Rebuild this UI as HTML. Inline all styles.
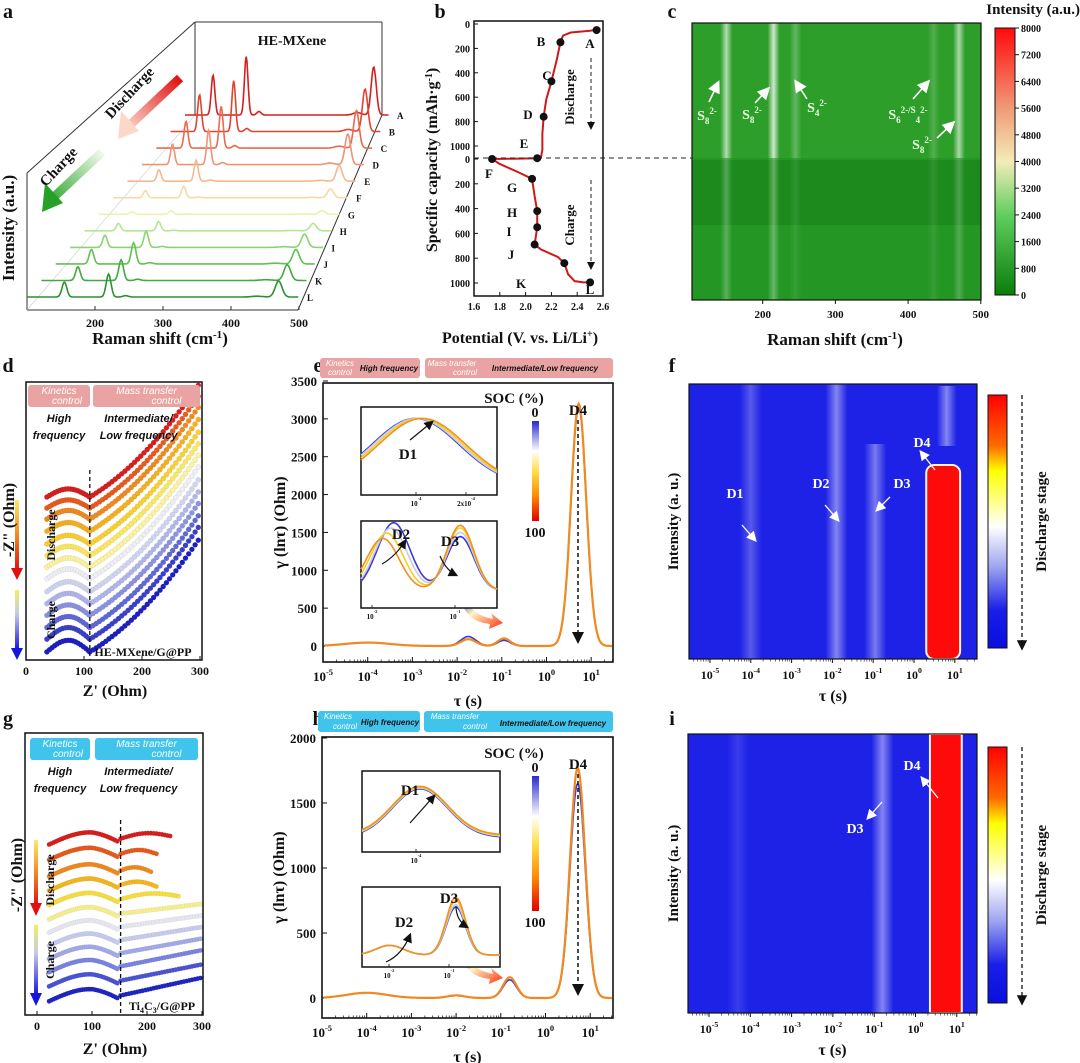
<!DOCTYPE html>
<html><head><meta charset="utf-8"><title>HE-MXene Raman / DRT figure</title>
<style>
html,body{margin:0;padding:0;background:#fff;}
svg{display:block;font-family:"Liberation Serif",serif;}
</style></head>
<body>
<svg id="fig" width="1080" height="1063" viewBox="0 0 1080 1063" xmlns="http://www.w3.org/2000/svg">
<defs>
 <linearGradient id="gC" x1="0" y1="1" x2="0" y2="0">
  <stop offset="0" stop-color="#0b7d0b"/><stop offset="0.3" stop-color="#5fcf5f"/><stop offset="0.5" stop-color="#f3ecb8"/><stop offset="0.7" stop-color="#f09a78"/><stop offset="1" stop-color="#ff0a0a"/>
 </linearGradient>
 <linearGradient id="gJ" x1="0" y1="0" x2="0" y2="1">
  <stop offset="0" stop-color="#ff0000"/><stop offset="0.2" stop-color="#ff6a00"/><stop offset="0.3" stop-color="#ffff00"/><stop offset="0.52" stop-color="#ffffff"/><stop offset="0.68" stop-color="#9ea4f0"/><stop offset="0.85" stop-color="#1a1ee8"/><stop offset="1" stop-color="#0a0ee0"/>
 </linearGradient>
 <linearGradient id="gSOC" x1="0" y1="0" x2="0" y2="1">
  <stop offset="0" stop-color="#2a2ad0"/><stop offset="0.3" stop-color="#ffffff"/><stop offset="0.5" stop-color="#ffe04a"/><stop offset="0.75" stop-color="#ff8a00"/><stop offset="1" stop-color="#e00000"/>
 </linearGradient>
 <linearGradient id="gDis" x1="0" y1="0" x2="0" y2="1"><stop offset="0" stop-color="#ffe866"/><stop offset="0.5" stop-color="#f08a20"/><stop offset="1" stop-color="#e01010"/></linearGradient>
 <linearGradient id="gChg" x1="0" y1="0" x2="0" y2="1"><stop offset="0" stop-color="#f0f060"/><stop offset="0.4" stop-color="#c8c8e8"/><stop offset="1" stop-color="#1515e0"/></linearGradient>
 <linearGradient id="gArrR" gradientUnits="userSpaceOnUse" x1="180" y1="78" x2="123" y2="132"><stop offset="0" stop-color="#e01010"/><stop offset="1" stop-color="#fde4d8"/></linearGradient>
 <linearGradient id="gArrG" gradientUnits="userSpaceOnUse" x1="102" y1="152" x2="47" y2="207"><stop offset="0" stop-color="#f0faea"/><stop offset="1" stop-color="#22a022"/></linearGradient>
 <linearGradient id="gFlow" x1="0" y1="0" x2="1" y2="1"><stop offset="0" stop-color="#3030d0"/><stop offset="0.4" stop-color="#fff6c0"/><stop offset="1" stop-color="#ff3010"/></linearGradient>
 <linearGradient id="band" x1="0" y1="0" x2="1" y2="0"><stop offset="0" stop-color="#fff" stop-opacity="0"/><stop offset="0.5" stop-color="#fff" stop-opacity="1"/><stop offset="1" stop-color="#fff" stop-opacity="0"/></linearGradient>
 <clipPath id="clipD"><rect x="26" y="382" width="176" height="278"/></clipPath>
 <clipPath id="clipG"><rect x="25" y="733" width="178" height="282"/></clipPath>
 <marker id="ah" markerWidth="8" markerHeight="8" refX="6" refY="4" orient="auto"><path d="M0,0 L8,4 L0,8 Z" fill="#111"/></marker>
 <marker id="ahw" markerWidth="8" markerHeight="8" refX="6" refY="4" orient="auto"><path d="M0,0 L8,4 L0,8 Z" fill="#fff"/></marker>
</defs>
<g id="pa"></g>
<g id="pb"></g>
<g id="pc"></g>
<g id="pd"></g>
<g id="pe"></g>
<g id="pf"></g>
<g id="pg"></g>
<g id="ph"></g>
<g id="pi"></g>
</svg>
<script>
// ---------- DATA ----------
const ramanLabels=['A','B','C','D','E','F','G','H','I','J','K','L'];
const ramanPeakPos=[155,220,470];
const ramanH155=[50,45,32,24,13,8,3,8,13,15,14,15];
const ramanH220=[73,62,50,40,24,13,4,10,17,22,21,23];
const ramanH470=[60,52,45,36,18,10,4,8,14,15,16,16];
const ramanColors=['#d42020','#e0442e','#e86a50','#f09274','#f5b88e','#f7d9a6','#eaf2b0','#b6e692','#8ad470','#62c052','#42a840','#2a9230'];
const ramanTicks=[200,300,400,500];

const bDisV=[2.58,2.56,2.50,2.35,2.29,2.27,2.24,2.20,2.16,2.14,2.13,2.13,2.12,2.10];
const bDisC=[38,45,55,70,95,150,300,470,620,760,900,1030,1090,1100];
const bChgV=[1.74,1.80,1.95,2.05,2.07,2.09,2.09,2.08,2.07,2.12,2.25,2.30,2.33,2.38,2.45,2.52];
const bChgC=[0,40,110,160,300,420,550,620,690,730,790,840,930,985,995,995];
const bDotLabels=['A','B','C','D','E','F','G','H','I','J','K','L'];
const bDotV=[2.55,2.27,2.20,2.14,2.09,1.74,2.05,2.09,2.09,2.07,2.30,2.50];
const bDotC=[50,150,470,760,1100,0,160,420,550,690,840,995];
const bDotPart=['d','d','d','d','d','c','c','c','c','c','c','c'];
const bXTicks=[1.6,1.8,2.0,2.2,2.4,2.6];
const bYTicks=[0,200,400,600,800,1000];

const cBandPos=[150,215,245,435,470];
const cBandTop=[0.75,0.9,0.3,0.2,0.7];
const cBandBot=[0.35,0.45,0.12,0.12,0.3];
const cTicks=[200,300,400,500];
const cBarTicks=[0,800,1600,2400,3200,4000,4800,5600,6400,7200,8000];

const dBase=[281,262,243,222,200,180,160,140,118,97,77,56,36,14];
const dArc=[14,14,15,15,15,16,16,17,17,18,18,19,20,20];
const dColors=['#d81e1e','#e85a1e','#f08a1e','#f5b01e','#f8d030','#fae860','#fbf3a0','#eeeef4','#d0d4ee','#b0b6ea','#8c92e2','#6068d8','#3a40cc','#1c20c0'];
const dTicks=[0,100,200,300];

const gBase=[320,292,262,236,210,184,160,136,112,88,62,35];
const gEnd=[245,220,210,220,260,300,300,300,300,300,300,300];
const gRise=[0.05,0.0,-0.05,-0.05,0.05,0.12,0.14,0.16,0.18,0.2,0.2,0.22];
const gColors=['#d81e1e','#e85a1e','#f08a1e','#f5b81e','#f6e040','#f8f090','#e8e8f2','#c8ccee','#a4aaea','#7c84e0','#4c54d4','#2026c4'];

const logTicks=[-5,-4,-3,-2,-1,0,1];
const ePeakC=[-4,-1.75,-0.95,0.72];
const ePeakW=[0.5,0.17,0.14,0.17];
const eOrangeH=[45,90,100,3200];
const eBlueH=[45,125,75,3150];
const eYTicks=[0,500,1000,1500,2000,2500,3000,3500];
const hPeakC=[-4,-2,-0.8,0.72];
const hPeakW=[0.45,0.2,0.15,0.17];
const hOrangeH=[40,20,160,1770];
const hBlueH=[40,18,140,1650];
const hYTicks=[0,500,1000,1500,2000];
const socColors=['#3a3ad8','#c8c8f0','#f5d020','#f09020'];
const insE1C=[0.40,0.41,0.43,0.45];
const insE2D2C=[0.24,0.22,0.19,0.16];
const insE2D2H=[0.78,0.72,0.66,0.6];
const insE2D3H=[0.62,0.67,0.72,0.75];
const insH2D3H=[0.6,0.63,0.68,0.72];

const fBandC=[-4,-1.9,-0.95];
const fBandA=[0.25,0.45,0.4];
const iBandC=[-4.3,-0.8];
const iBandA=[0.12,0.45];

// ---------- HELPERS ----------
const NS='http://www.w3.org/2000/svg';
function mk(tag,attrs,parent){const e=document.createElementNS(NS,tag);for(const k in attrs)e.setAttribute(k,attrs[k]);parent.appendChild(e);return e;}
function txt(parent,x,y,s,size,o){o=o||{};const t=mk('text',{x:x,y:y,'font-size':size,'text-anchor':o.a||'middle',fill:o.f||'#111','font-weight':o.w||'bold'},parent);if(o.r!==undefined)t.setAttribute('transform','rotate('+o.r+' '+x+' '+y+')');if(o.it)t.setAttribute('font-style','italic');if(o.sans)t.setAttribute('font-family','Liberation Sans, sans-serif');t.textContent=s;

return t;}
function sup(parent,x,y,base,ex,size,n){const t=mk('text',{x:x,y:y,'font-size':size,'text-anchor':'middle','font-weight':'bold',fill:'#111'},parent);

t.appendChild(document.createTextNode(base));const s=mk('tspan',{dy:-6,'font-size':size*0.65},t);s.textContent=ex;return t;}
function line(parent,x1,y1,x2,y2,st,sw,n,extra){const l=mk('line',{x1:x1,y1:y1,x2:x2,y2:y2,stroke:st,'stroke-width':sw},parent);if(extra)for(const k in extra)l.setAttribute(k,extra[k]);

return l;}
function path(parent,d,st,sw,fill,n){const p=mk('path',{d:d,stroke:st,'stroke-width':sw,fill:fill||'none'},parent);

return p;}
function rect(parent,x,y,w,h,fill,n,extra){const r=mk('rect',{x:x,y:y,width:w,height:h,fill:fill},parent);if(extra)for(const k in extra)r.setAttribute(k,extra[k]);

return r;}
function gauss(x,c,w){return Math.exp(-0.5*((x-c)/w)*((x-c)/w));}
function lerp(a,b,t){return a+(b-a)*t;}

// ---------- PANEL A ----------
(function(){
const g=document.getElementById('pa');
txt(g,8,18,'a',20,{n:'panel-a-letter'});
const fr='#333';
line(g,27,173,195,22,fr,1,'frame-edge');line(g,27,173,27,310,fr,1,'frame-edge');
line(g,195,22,382,22,fr,1,'frame-edge');line(g,195,22,195,115,fr,1,'frame-edge');
line(g,382,22,382,115,fr,1,'frame-edge');line(g,27,310,298,310,fr,1,'frame-edge');
line(g,298,310,382,115,fr,1,'frame-edge');line(g,27,310,195,115,'#ccc',0.6,'frame-edge');
function X(r,t){return lerp(185,27,t)+(r-100)*lerp(0.51,0.68,t);}
for(let i=0;i<ramanLabels.length;i++){
 const t=i/11,by=lerp(115,297,t),sc=lerp(0.8,1,t);
 const hs=[ramanH155[i],ramanH220[i],ramanH470[i]];
 let d='';
 for(let r=100;r<=500;r+=1.5){let v=0;for(let k=0;k<3;k++)v+=hs[k]*gauss(r,ramanPeakPos[k],k==2?5:3.5);
  v+=0.06*hs[1]*gauss(r,245,4)+0.05*hs[2]*gauss(r,438,8);
  d+=(d?'L':'M')+X(r,t).toFixed(1)+','+(by-v*sc).toFixed(1);}
 path(g,d,ramanColors[i],1.6,'none','raman-trace-'+ramanLabels[i]);
 txt(g,X(500,t)+8,by+4,ramanLabels[i],9,{n:'trace-label',a:'start'});
}
for(const r of ramanTicks){const x=X(r,1);line(g,x,310,x,306,fr,1,'x-tick');txt(g,x,327,String(r),12,{n:'x-tick-label'});}
txt(g,292,45,'HE-MXene',14,{n:'series-title'});
line(g,180,78,131,124,'url(#gArrR)',9,'discharge-arrow-shaft');
path(g,'M121,111 L139,131 L118,139 Z','none',0,'#fbd8c8','discharge-arrow-head');
line(g,102,152,55,196,'url(#gArrG)',9,'charge-arrow-shaft');
path(g,'M45,183 L63,203 L42,212 Z','none',0,'#26a026','charge-arrow-head');
txt(g,133,96,'Discharge',15,{r:-47,n:'discharge-label'});
txt(g,62,170,'Charge',15,{r:-47,n:'charge-label'});
txt(g,14,228,'Intensity (a.u.)',17,{r:-90,n:'y-axis-title'});
const t=txt(g,160,344,'Raman shift (cm',17,{n:'x-axis-title'});const s=mk('tspan',{dy:-6,'font-size':11},t);s.textContent='-1';const s2=mk('tspan',{dy:6},t);s2.textContent=')';
})();

// ---------- PANEL B ----------
(function(){
const g=document.getElementById('pb');
txt(g,440,18,'b',20,{n:'panel-b-letter'});
const X=v=>474+(v-1.6)*129, Yd=c=>24+c*0.122, Yc=c=>159+c*0.124;
rect(g,474,21,129,275,'none','plot-frame',{stroke:'#111','stroke-width':1.5});
for(const v of bXTicks){line(g,X(v),296,X(v),292,'#111',1,'x-tick');txt(g,X(v),310,v.toFixed(1),10,{n:'x-tick-label'});}
for(const c of bYTicks){line(g,474,Yd(c),478,Yd(c),'#111',1,'y-tick');txt(g,470,Yd(c)+4,String(c),10,{a:'end',n:'y-tick-label'});
 line(g,474,Yc(c),478,Yc(c),'#111',1,'y-tick');txt(g,470,Yc(c)+4,String(c),10,{a:'end',n:'y-tick-label'});}
let d='';for(let i=0;i<bDisV.length;i++)d+=(i?'L':'M')+X(bDisV[i])+','+Yd(bDisC[i]);
d+='L'+X(1.9)+','+Yc(-2);
for(let i=0;i<bChgV.length;i++)d+='L'+X(bChgV[i])+','+Yc(bChgC[i]);
path(g,d,'#d01818',2,'none','capacity-curve');
line(g,474,158,981,158,'#222',1,'boundary-dashed-line',{'stroke-dasharray':'5,4'});
const lp=[[590,48],[541,46],[547,80],[528,119],[524,148],[489,178],[512,192],[512,217],[509,236],[511,259],[521,288],[590,294]];
for(let i=0;i<bDotLabels.length;i++){const y=bDotPart[i]=='d'?Yd(bDotC[i]):Yc(bDotC[i]);
 const c=mk('circle',{cx:X(bDotV[i]),cy:y,r:4,fill:'#111'},g);
 
 txt(g,lp[i][0],lp[i][1],bDotLabels[i],13,{n:'state-label'});}
txt(g,574,97,'Discharge',13,{r:-90,n:'discharge-label'});
txt(g,574,225,'Charge',13,{r:-90,n:'charge-label'});
line(g,591,58,591,128,'#222',1,'discharge-arrow',{'stroke-dasharray':'4,3','marker-end':'url(#ah)'});
line(g,591,180,591,268,'#222',1,'charge-arrow',{'stroke-dasharray':'4,3','marker-end':'url(#ah)'});
const t=txt(g,437,160,'Specific capacity (mAh·g',16,{r:-90,n:'y-axis-title'});const s=mk('tspan',{dy:-5,'font-size':10},t);s.textContent='-1';const s2=mk('tspan',{dy:5},t);s2.textContent=')';
const t2=txt(g,520,343,'Potential (V. vs. Li/Li',16,{n:'x-axis-title'});const s3=mk('tspan',{dy:-6,'font-size':10},t2);s3.textContent='+';const s4=mk('tspan',{dy:6},t2);s4.textContent=')';
})();

// ---------- PANEL C ----------
(function(){
const g=document.getElementById('pc');
txt(g,672,18,'c',20,{n:'panel-c-letter'});
const X=r=>690+(r-100)*0.727;
rect(g,692,23,289,277,'#249624','heatmap-background');
rect(g,692,23,289,135,'#2e9e2a','heatmap-upper-region');
rect(g,692,160,289,65,'#1c8a1c','heatmap-mid-region');
for(let i=0;i<cBandPos.length;i++){
 const w=12;rect(g,X(cBandPos[i])-w/2,23,w,135,'url(#band)','raman-band-top',{opacity:cBandTop[i]*0.85});
 rect(g,X(cBandPos[i])-w/2,158,w,142,'url(#band)','raman-band-bottom',{opacity:cBandBot[i]*0.7});}
rect(g,692,23,289,277,'none','heatmap-frame',{stroke:'#111','stroke-width':1.2});
for(const r of cTicks){line(g,X(r),300,X(r),304,'#111',1,'x-tick');txt(g,X(r),318,String(r),11,{n:'x-tick-label'});}
const t=txt(g,835,345,'Raman shift (cm',17,{n:'x-axis-title'});const s=mk('tspan',{dy:-6,'font-size':11},t);s.textContent='-1';const s2=mk('tspan',{dy:6},t);s2.textContent=')';
rect(g,995,28,20,267,'url(#gC)','colorbar',{stroke:'#111','stroke-width':1});
for(const v of cBarTicks){const y=295-v/8000*267;line(g,1015,y,1019,y,'#111',1,'colorbar-tick');txt(g,1021,y+4,String(v),10,{a:'start',n:'colorbar-tick-label'});}
txt(g,1080,14,'Intensity (a.u.)',15,{a:'end',n:'colorbar-title'});
const arrows=[[709,102,718,83],[755,103,768,89],[807,99,796,82],[913,99,928,82],[937,138,953,123]];
const labs=[[707,120,'8','2-',''],[752,119,'8','2-',''],[817,112,'4','2-',''],[908,119,'6','2-/S','4'],[922,149,'8','2-','']];
for(let i=0;i<arrows.length;i++){const a=arrows[i];
 line(g,a[0],a[1],a[2],a[3],'#fff',1.6,'annotation-arrow',{'marker-end':'url(#ahw)'});
 const L=labs[i];const t=txt(g,L[0],L[1],'S',14,{f:'#e8ffe0',n:'species-label'});
 const sb=mk('tspan',{dy:4,'font-size':9},t);sb.textContent=L[2];const sp=mk('tspan',{dy:-10,'font-size':9},t);sp.textContent=L[3];
 if(L[4]){const s5=mk('tspan',{dy:10,'font-size':9},t);s5.textContent=L[4];const s6=mk('tspan',{dy:-10,'font-size':9},t);s6.textContent='2-';}
}
})();

// ---------- NYQUIST helper ----------
function ctrlBoxes(g,x0,y0,w1,x1,w2,col){
 rect(g,x0,y0,w1,22,col,'kinetics-control-box',{rx:3});rect(g,x1,y0,w2,22,col,'mass-transfer-control-box',{rx:3});
 txt(g,x0+w1/2,y0+9,'Kinetics',10,{f:'#fff',it:1,w:'normal',sans:1,n:'kinetics-label'});txt(g,x0+w1/2+8,y0+19,'control',10,{f:'#fff',it:1,w:'normal',sans:1,n:'kinetics-label'});
 txt(g,x1+w2/2,y0+9,'Mass transfer',10,{f:'#fff',it:1,w:'normal',sans:1,n:'mass-transfer-label'});txt(g,x1+w2/2+20,y0+19,'control',10,{f:'#fff',it:1,w:'normal',sans:1,n:'mass-transfer-label'});
 txt(g,x0+w1/2,y0+37,'High',11,{it:1,sans:1,n:'high-frequency-label'});txt(g,x0+w1/2,y0+54,'frequency',11,{it:1,sans:1,n:'high-frequency-label'});
 txt(g,x1+w2/2-8,y0+37,'Intermediate/',11,{it:1,sans:1,n:'low-frequency-label'});txt(g,x1+w2/2-8,y0+54,'Low frequency',11,{it:1,sans:1,n:'low-frequency-label'});
}
// ---------- PANEL D ----------
(function(){
const g=document.getElementById('pd');
txt(g,8,372,'d',20,{n:'panel-d-letter'});
const X=z=>26+z*0.58, Y=v=>660-v*0.58;
const cg=mk('g',{'clip-path':'url(#clipD)'},g);

for(let i=0;i<dBase.length;i++){
 const pts=[];for(let z=36;z<110;z+=4.5)pts.push([z,dBase[i]+dArc[i]*Math.sin(Math.PI*(z-36)/74)]);
 for(let z=110;z<=300;z+=5.5)pts.push([z,dBase[i]+0.6*(z-110)+0.0023*(z-110)*(z-110)]);
 for(const p of pts){const c=mk('circle',{cx:X(p[0]).toFixed(1),cy:Y(p[1]).toFixed(1),r:2.6,fill:dColors[i],stroke:'rgba(0,0,0,0.15)','stroke-width':0.4},cg);
 }
}
rect(g,26,382,176,278,'none','plot-frame',{stroke:'#111','stroke-width':1.5});
ctrlBoxes(g,28,385,62,93,107,'#e9a3a3');
line(g,X(110),470,X(110),660,'#111',1.3,'boundary-dashed-line',{'stroke-dasharray':'4,3'});
rect(g,15,500,4,70,'url(#gDis)','discharge-arrow-bar');path(g,'M11,568 L23,568 L17,580 Z','none',0,'#e01010','discharge-arrow-head');
rect(g,15,590,4,60,'url(#gChg)','charge-arrow-bar');path(g,'M11,648 L23,648 L17,660 Z','none',0,'#1515e0','charge-arrow-head');
txt(g,55,535,'Discharge',12,{r:-90,n:'discharge-label'});txt(g,55,620,'Charge',12,{r:-90,n:'charge-label'});
txt(g,143,656,'HE-MXene/G@PP',12,{n:'sample-label'});
for(const v of dTicks){line(g,X(v),660,X(v),656,'#111',1,'x-tick');txt(g,X(v),675,String(v),12,{n:'x-tick-label'});}
txt(g,115,696,"Z' (Ohm)",16,{n:'x-axis-title'});
txt(g,14,520,'-Z" (Ohm)',16,{r:-90,n:'y-axis-title'});
})();

// ---------- PANEL G ----------
(function(){
const g=document.getElementById('pg');
txt(g,8,725,'g',20,{n:'panel-g-letter'});
const X=z=>37+z*0.55, Y=v=>1015-v*0.55;
const cg=mk('g',{'clip-path':'url(#clipG)'},g);

for(let i=0;i<gBase.length;i++){
 const pts=[];for(let z=22;z<150;z+=4)pts.push([z,gBase[i]-10+22*Math.sin(Math.PI*(z-22)/150)-(z>100?(z-100)*0.12:0)]);
 for(let z=152;z<=gEnd[i];z+=5)pts.push([z,gBase[i]+gRise[i]*(z-150)+(i<5?8*Math.sin(Math.PI*(z-150)/(gEnd[i]-150)):0)]);
 for(const p of pts){const c=mk('circle',{cx:X(p[0]).toFixed(1),cy:Y(p[1]).toFixed(1),r:2.3,fill:gColors[i],stroke:'rgba(0,0,0,0.12)','stroke-width':0.4},cg);
 }
}
rect(g,25,733,178,282,'none','plot-frame',{stroke:'#111','stroke-width':1.5});
ctrlBoxes(g,30,738,60,95,103,'#40c4ec');
line(g,X(152),820,X(152),1015,'#111',1.3,'boundary-dashed-line',{'stroke-dasharray':'4,3'});
rect(g,34,840,4,65,'url(#gDis)','discharge-arrow-bar');path(g,'M30,903 L42,903 L36,916 Z','none',0,'#e01010','discharge-arrow-head');
rect(g,34,925,4,70,'url(#gChg)','charge-arrow-bar');path(g,'M30,993 L42,993 L36,1006 Z','none',0,'#1515e0','charge-arrow-head');
txt(g,54,880,'Discharge',12,{r:-90,n:'discharge-label'});txt(g,54,960,'Charge',12,{r:-90,n:'charge-label'});
const t=txt(g,162,1010,'Ti',12,{n:'sample-label'});const a=mk('tspan',{dy:3,'font-size':8},t);a.textContent='4';const b=mk('tspan',{dy:-3},t);b.textContent='C';const c2=mk('tspan',{dy:3,'font-size':8},t);c2.textContent='3';const d2=mk('tspan',{dy:-3},t);d2.textContent='/G@PP';
for(const v of dTicks){line(g,X(v),1015,X(v),1011,'#111',1,'x-tick');txt(g,X(v),1030,String(v),12,{n:'x-tick-label'});}
txt(g,115,1054,"Z' (Ohm)",16,{n:'x-axis-title'});
txt(g,22,875,'-Z" (Ohm)',16,{r:-90,n:'y-axis-title'});
})();

// ---------- DRT helper ----------
function drtPanel(g,cfg){
 const X=l=>cfg.x0+(l+5)*cfg.dec, Y=v=>cfg.y0-v*cfg.ky;
 rect(g,cfg.bx,cfg.by,cfg.bw,cfg.bh,'none','plot-frame',{stroke:'#111','stroke-width':1.6});
 for(const v of cfg.yt){line(g,cfg.bx,Y(v),cfg.bx+5,Y(v),'#111',1,'y-tick');txt(g,cfg.bx-6,Y(v)+5,String(v),13,{a:'end',n:'y-tick-label'});}
 for(const l of logTicks){line(g,X(l),cfg.by+cfg.bh,X(l),cfg.by+cfg.bh-5,'#111',1,'x-tick');sup(g,X(l),cfg.by+cfg.bh+19,'10',String(l),13,'x-tick-label');}
 for(let l=-5;l<1.5;l++)for(let m=2;m<10;m++){const x=X(l+Math.log10(m));if(x<cfg.bx+cfg.bw)line(g,x,cfg.by+cfg.bh,x,cfg.by+cfg.bh-2.5,'#111',0.7,'minor-tick');}
 const series=[[cfg.blue,'#3a3ad8',1.6,'drt-curve-soc-0'],[cfg.orange,'#f08a20',2.2,'drt-curve-soc-100']];
 for(const s of series){let d='';for(let l=-5.2;l<=1.5;l+=0.02){let v=0;for(let k=0;k<4;k++)v+=s[0][k]*gauss(l,cfg.pc[k],cfg.pw[k]);const x=X(l);if(x<cfg.bx+1||x>cfg.bx+cfg.bw-1)continue;d+=(d?'L':'M')+x.toFixed(1)+','+Y(v).toFixed(1);}
  path(g,d,s[1],s[2],'none',s[3]);}
 txt(g,(cfg.bx+cfg.bx+cfg.bw)/2,cfg.by+cfg.bh+44,'τ (s)',16,{n:'x-axis-title'});
 txt(g,cfg.bx-38,(cfg.by*2+cfg.bh)/2,'γ (lnτ) (Ohm)',16,{r:-90,n:'y-axis-title'});
 txt(g,578,cfg.by+32,'D4',15,{n:'d4-label'});
 line(g,578,cfg.by+37,578,cfg.y0-5,'#111',1.5,'d4-dashed-arrow',{'stroke-dasharray':'4,3','marker-end':'url(#ah)'});
 txt(g,514,cfg.socT-12,'SOC (%)',15,{n:'soc-legend-title'});txt(g,535,cfg.socT+2,'0',14,{n:'soc-legend-0'});
 rect(g,532,cfg.socT+6,7,cfg.socH,'url(#gSOC)','soc-colorbar');txt(g,535,cfg.socT+cfg.socH+22,'100',14,{n:'soc-legend-100'});
 path(g,'M'+(cfg.flowX)+','+(cfg.flowY)+' q6,18 28,22 l-2,-6 l12,10 l-14,6 l1,-5 q-24,-2 -30,-26 Z','none',0,'url(#gFlow)','soc-shift-arrow');
}
function inset(g,x,y,w,h,curves,labels,ticks){
 rect(g,x,y,w,h,'#fff','inset-frame',{stroke:'#111','stroke-width':1.5});
 for(const c of curves){let d='';for(let u=0;u<=1.001;u+=0.01){d+=(d?'L':'M')+(x+u*w).toFixed(1)+','+(y+h-c.f(u)*h).toFixed(1);}path(g,d,c.col,1.6,'none',c.n);}
 for(const l of labels)txt(g,l[0],l[1],l[2],15,{n:'peak-label-'+l[2]});
 for(const t of ticks){line(g,t[0],y+h,t[0],y+h-3,'#111',0.8,'inset-tick');sup(g,t[0],y+h+11,t[1],t[2],7,'inset-tick-label');}
}

// ---------- PANEL E ----------
(function(){
const g=document.getElementById('pe');
txt(g,318,372,'e',20,{n:'panel-e-letter'});
rect(g,320,358,100,20,'#e9a3a3','kinetics-control-box',{rx:3});rect(g,425,358,188,20,'#e9a3a3','mass-transfer-control-box',{rx:3});
txt(g,340,366,'Kinetics',8,{f:'#fff',it:1,w:'normal',sans:1,n:'kinetics-label'});txt(g,340,375,'control',8,{f:'#fff',it:1,w:'normal',sans:1,n:'kinetics-label'});
txt(g,389,371,'High frequency',8,{it:1,sans:1,n:'high-frequency-label'});
txt(g,452,366,'Mass transfer',8,{f:'#fff',it:1,w:'normal',sans:1,n:'mass-transfer-label'});txt(g,465,375,'control',8,{f:'#fff',it:1,w:'normal',sans:1,n:'mass-transfer-label'});
txt(g,545,371,'Intermediate/Low frequency',8,{it:1,sans:1,n:'low-frequency-label'});
drtPanel(g,{x0:323,dec:44.7,y0:646,ky:265/3500,bx:323,by:383,bw:290,bh:279,yt:eYTicks,pc:ePeakC,pw:ePeakW,orange:eOrangeH,blue:eBlueH,socT:415,socH:100,flowX:465,flowY:597});
const c1=[];for(let k=0;k<4;k++){const cc=insE1C[k];c1.push({col:socColors[k],n:'inset-d1-curve',f:u=>0.12+0.75*gauss(u,cc,0.32)});}
inset(g,361,407,136,88,c1,[[408,459,'D1']],[[416,'10','-4'],[466,'2x10','-4']]);
line(g,410,440,432,422,'#111',1.2,'d1-arrow',{'marker-end':'url(#ah)'});
const c2=[];for(let k=0;k<4;k++){const a=insE2D2C[k],b=insE2D2H[k],c=insE2D3H[k];c2.push({col:socColors[k],n:'inset-d2-d3-curve',f:u=>0.2+b*gauss(u,a,0.12)+c*gauss(u,0.73,0.1)});}
inset(g,361,521,136,87,c2,[[401,539,'D2'],[450,546,'D3']],[[372,'10','-2'],[455,'10','-1']]);
path(g,'M382,564 Q396,556 405,541','#111',1.2,'none','d2-arrow').setAttribute('marker-end','url(#ah)');
path(g,'M440,556 Q446,570 456,575','#111',1.2,'none','d3-arrow').setAttribute('marker-end','url(#ah)');
})();

// ---------- PANEL H ----------
(function(){
const g=document.getElementById('ph');
txt(g,318,725,'h',20,{n:'panel-h-letter'});
rect(g,318,711,102,21,'#40c4ec','kinetics-control-box',{rx:3});rect(g,424,711,189,21,'#40c4ec','mass-transfer-control-box',{rx:3});
txt(g,338,719,'Kinetics',8,{f:'#fff',it:1,w:'normal',sans:1,n:'kinetics-label'});txt(g,345,729,'control',8,{f:'#fff',it:1,w:'normal',sans:1,n:'kinetics-label'});
txt(g,390,725,'High frequency',8,{it:1,sans:1,n:'high-frequency-label'});
txt(g,455,719,'Mass transfer',8,{f:'#fff',it:1,w:'normal',sans:1,n:'mass-transfer-label'});txt(g,475,729,'control',8,{f:'#fff',it:1,w:'normal',sans:1,n:'mass-transfer-label'});
txt(g,553,726,'Intermediate/Low frequency',8,{it:1,sans:1,n:'low-frequency-label'});
drtPanel(g,{x0:322,dec:44.7,y0:998,ky:260/2000,bx:322,by:737,bw:291,bh:281,yt:hYTicks,pc:hPeakC,pw:hPeakW,orange:hOrangeH,blue:hBlueH,socT:770,socH:135,flowX:465,flowY:952});
const c1=[];for(let k=0;k<4;k++){c1.push({col:socColors[k],n:'inset-d1-curve',f:u=>0.18+0.6*gauss(u,0.42,0.2)+(k*0.01)});}
inset(g,362,771,138,81,c1,[[410,795,'D1']],[[416,'10','-4']]);
line(g,410,823,434,796,'#111',1.2,'d1-arrow',{'marker-end':'url(#ah)'});
const c2=[];for(let k=0;k<4;k++){const c=insH2D3H[k];c2.push({col:socColors[k],n:'inset-d2-d3-curve',f:u=>0.15+0.12*gauss(u,0.2,0.1)+c*gauss(u,0.68,0.07)});}
inset(g,362,887,138,80,c2,[[404,927,'D2'],[449,903,'D3']],[[389,'10','-2'],[449,'10','-1']]);
path(g,'M386,962 Q402,955 410,935','#111',1.2,'none','d2-arrow').setAttribute('marker-end','url(#ah)');
path(g,'M456,906 Q456,920 467,927','#111',1.2,'none','d3-arrow').setAttribute('marker-end','url(#ah)');
})();

// ---------- HEATMAP f/i ----------
function heat(g,cfg){
 const X=l=>cfg.x0+(l+5)*cfg.dec;
 rect(g,cfg.bx,cfg.by,cfg.bw,cfg.bh,'#1e22e6','heatmap-background');
 for(let i=0;i<cfg.bc.length;i++){rect(g,X(cfg.bc[i])-11,cfg.by+(cfg.bst?cfg.bst[i]:0),22,cfg.bh-(cfg.bst?cfg.bst[i]:0),'url(#band)','drt-band',{opacity:cfg.ba[i]});}
 const rx1=X(cfg.r0),rx2=X(cfg.r1);
 rect(g,rx1,cfg.ry,rx2-rx1,cfg.by+cfg.bh-cfg.ry,'#ff0a0a','d4-red-region',{stroke:'#fff5e0','stroke-width':2,rx:cfg.rr});
 rect(g,cfg.bx,cfg.by,cfg.bw,cfg.bh,'none','heatmap-frame',{stroke:'#111','stroke-width':1.2});
 for(const l of logTicks){line(g,X(l),cfg.by+cfg.bh,X(l),cfg.by+cfg.bh+4,'#111',1,'x-tick');sup(g,X(l),cfg.by+cfg.bh+20,'10',String(l),12,'x-tick-label');}
 for(let l=-6;l<1.6;l++)for(let m=2;m<10;m++){const x=X(l+Math.log10(m));if(x>cfg.bx&&x<cfg.bx+cfg.bw)line(g,x,cfg.by+cfg.bh,x,cfg.by+cfg.bh+2.5,'#111',0.6,'minor-tick');}
 txt(g,cfg.bx+cfg.bw/2,cfg.by+cfg.bh+42,'τ (s)',16,{n:'x-axis-title'});
 txt(g,678,cfg.by+cfg.bh/2,'Intensity (a. u.)',15,{r:-90,n:'y-axis-title'});
 rect(g,988,cfg.cy,19,cfg.ch,'url(#gJ)','colorbar',{stroke:'#111','stroke-width':1});
 line(g,1022,cfg.cy,1022,cfg.cy+cfg.ch,'#111',1.3,'discharge-stage-arrow',{'stroke-dasharray':'4,3','marker-end':'url(#ah)'});
 txt(g,1046,cfg.cy+cfg.ch/2,'Discharge stage',15,{r:-90,n:'discharge-stage-label'});
 return X;
}
(function(){
const g=document.getElementById('pf');
txt(g,672,372,'f',20,{n:'panel-f-letter'});
const X=heat(g,{x0:710,dec:40.8,bx:689,by:384,bw:288,bh:275,bc:fBandC,ba:fBandA,bst:[0,0,60],r0:0.3,r1:1.13,ry:465,rr:8,cy:395,ch:253});
rect(g,X(0.8)-10,386,20,60,'url(#band)','d4-top-band',{opacity:0.45});
const lbl=[['D1',735,498,742,525,755,540],['D2',821,488,825,505,838,520],['D3',902,488,890,497,877,510],['D4',922,447,935,470,921,452]];
for(const a of lbl){txt(g,a[1],a[2],a[0],14,{f:'#fff',n:'peak-label-'+a[0]});line(g,a[3],a[4],a[5],a[6],'#fff',1.3,'peak-arrow',{'marker-end':'url(#ahw)'});}
})();
(function(){
const g=document.getElementById('pi');
txt(g,672,725,'i',20,{n:'panel-i-letter'});
heat(g,{x0:709,dec:41.3,bx:688,by:734,bw:289,bh:279,bc:iBandC,ba:iBandA,r0:0.35,r1:1.12,ry:734,rr:0,cy:747,ch:256});
txt(g,855,833,'D3',14,{f:'#fff',n:'peak-label-D3'});line(g,882,802,868,818,'#fff',1.3,'peak-arrow',{'marker-end':'url(#ahw)'});
txt(g,912,770,'D4',14,{f:'#fff',n:'peak-label-D4'});line(g,938,798,922,778,'#fff',1.3,'peak-arrow',{'marker-end':'url(#ahw)'});
})();
</script>
</body></html>
